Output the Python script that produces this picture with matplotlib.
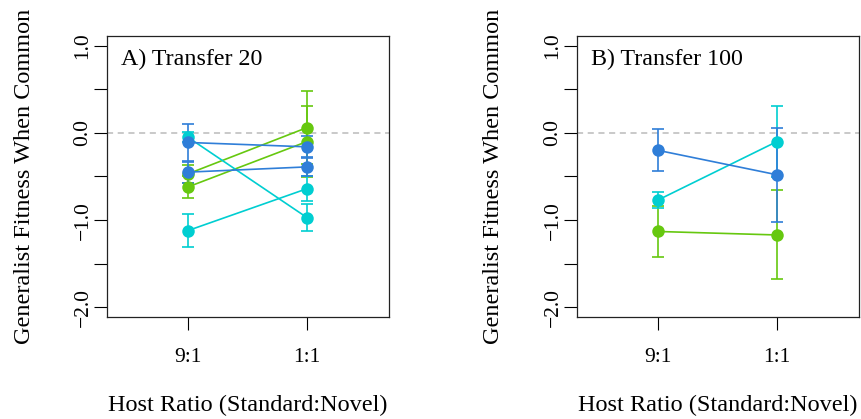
import matplotlib
matplotlib.use("Agg")
import matplotlib.pyplot as plt
import numpy as np

# ---- data ----
ratio_labels = ["9:1", "1:1"]
ytick_values = [-2.0, -1.5, -1.0, -0.5, 0.0, 0.5, 1.0]
ytick_labels = ["\u22122.0", "", "\u22121.0", "", "0.0", "", "1.0"]

panel_titles = ["A) Transfer 20", "B) Transfer 100"]

# Panel A (Transfer 20): each line = (9:1, 1:1)
a_colors = ["green", "green", "cyan", "cyan", "blue", "blue"]
a_means = [[-0.47, 0.06], [-0.62, -0.10], [-0.05, -0.97], [-1.12, -0.64], [-0.11, -0.16], [-0.45, -0.39]]
a_errs = [[0.10, 0.42], [0.13, 0.41], [0.06, 0.16], [0.19, 0.14], [0.21, 0.12], [0.12, 0.10]]

# Panel B (Transfer 100)
b_colors = ["green", "cyan", "blue"]
b_means = [[-1.13, -1.17], [-0.77, -0.10], [-0.20, -0.48]]
b_errs = [[0.29, 0.51], [0.09, 0.41], [0.24, 0.54]]

palette = {"green": "#66C80F", "cyan": "#00CED1", "blue": "#2F7ED8"}

plt.rcParams["font.family"] = ["Liberation Serif", "DejaVu Serif"]

W, H = 862, 419
fig = plt.figure(figsize=(W / 100, H / 100), dpi=100)

panels = [
    (107, a_colors, a_means, a_errs, panel_titles[0]),
    (577, b_colors, b_means, b_errs, panel_titles[1]),
]

x = np.array([1, 2])
for left_px, cols, means, errs, title in panels:
    ax = fig.add_axes([left_px / W, (H - 317) / H, 282 / W, 281 / H])
    ax.axhline(0, color="#BBBBBB", lw=1.1, ls=(0, (4, 3)), zorder=1)
    for c, m, e in zip(cols, means, errs):
        col = palette[c]
        ax.errorbar(x, m, yerr=e, color=col, fmt="none", elinewidth=1.2,
                    capsize=4.5, capthick=1.2, zorder=3)
        ax.plot(x, m, color=col, lw=1.2, marker="o", markersize=9,
                markeredgewidth=0, zorder=4)
    ax.set_xlim(0.32, 2.69)
    ax.set_ylim(-2.11, 1.11)
    ax.set_xticks(x)
    ax.set_xticklabels(ratio_labels)
    ax.set_yticks(ytick_values)
    ax.set_yticklabels(ytick_labels)
    ax.tick_params(axis="both", direction="out", length=9.5, width=0.8,
                   labelsize=15.5, colors="black")
    ax.tick_params(axis="x", pad=13)
    ax.tick_params(axis="y", pad=1)
    for lab in ax.get_yticklabels():
        lab.set_rotation(90)
        lab.set_va("center")
    for sp in ax.spines.values():
        sp.set_linewidth(0.9)
        sp.set_color("#222222")
    ax.set_ylabel("Generalist Fitness When Common", fontsize=17.5)
    ax.yaxis.set_label_coords((24 - 107) / 282, 0.5)
    ax.yaxis.label.set_va("center")
    ax.set_xlabel("Host Ratio (Standard:Novel)", fontsize=17.5)
    ax.xaxis.set_label_coords(0.5, (317 - 405) / 281)
    ax.xaxis.label.set_va("center")
    ax.text(0.049, 0.897, title, transform=ax.transAxes, fontsize=17.3,
            ha="left", va="baseline")

fig.savefig("out.png", dpi=100)
